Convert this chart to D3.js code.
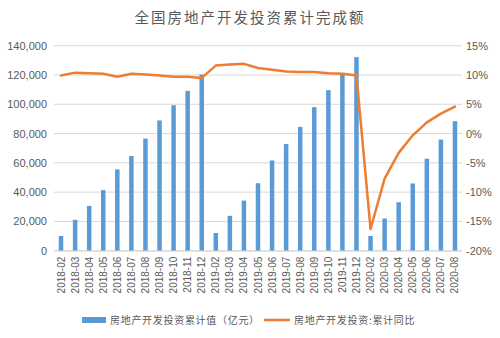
<!DOCTYPE html>
<html><head><meta charset="utf-8">
<script src="https://cdn.jsdelivr.net/npm/d3@7"></script>
<style>
html,body{margin:0;padding:0;background:#fff;}
text{font-family:"Liberation Sans",Arial,sans-serif;}
</style></head>
<body><svg id="c" width="500" height="338"></svg>
<script>
const categories = ["2018-02","2018-03","2018-04","2018-05","2018-06","2018-07","2018-08","2018-09","2018-10","2018-11","2018-12",
"2019-02","2019-03","2019-04","2019-05","2019-06","2019-07","2019-08","2019-09","2019-10","2019-11","2019-12",
"2020-02","2020-03","2020-04","2020-05","2020-06","2020-07","2020-08"];
const investValues = [10080,21108,30592,41358,55531,64691,76519,88948,99325,109160,120264,
12090,23803,34217,46075,61609,72843,84589,98008,109603,121265,132194,
10115,21963,33103,45920,62780,75894,88454];
const yoyValues = [9.9,10.4,10.3,10.2,9.7,10.2,10.1,9.9,9.7,9.7,9.5,
11.6,11.8,11.9,11.2,10.9,10.6,10.5,10.5,10.3,10.2,9.9,
-16.3,-7.7,-3.3,-0.3,1.9,3.4,4.6];
const leftTicks = [0,20000,40000,60000,80000,100000,120000,140000];
const rightTicks = [-20,-15,-10,-5,0,5,10,15];
const titleText = "全国房地产开发投资累计完成额";
const legendLabels = ["房地产开发投资累计值（亿元）","房地产开发投资:累计同比"];

const svg = d3.select("#c");
const L = 54, R = 462, T = 45.7, B = 250.7;
const x = d3.scaleBand().domain(categories).range([L, R]).paddingInner(0.68).paddingOuter(0.34);
const yL = d3.scaleLinear().domain([0,140000]).range([B, T]);
const yR = d3.scaleLinear().domain([-20,15]).range([B, T]);
const grey = "#595959";

// gridlines
svg.append("g").selectAll("line").data(leftTicks).join("line")
  .attr("x1", L).attr("x2", R)
  .attr("y1", d => yL(d)).attr("y2", d => yL(d))
  .attr("stroke", "#d9d9d9").attr("stroke-width", 1);

// left axis
const fmt = d3.format(",");
const la = svg.append("g").attr("transform", `translate(${L},0)`)
  .call(d3.axisLeft(yL).tickValues(leftTicks).tickFormat(fmt).tickSize(0).tickPadding(7));
la.select(".domain").remove();
la.selectAll("text").attr("fill", grey).style("font-size", "11px").style("font-family", "'Liberation Sans',Arial,sans-serif");

// right axis
const ra = svg.append("g").attr("transform", `translate(${R},0)`)
  .call(d3.axisRight(yR).tickValues(rightTicks).tickFormat(d => d + "%").tickSize(0).tickPadding(4));
ra.select(".domain").remove();
ra.selectAll("text").attr("fill", grey).style("font-size", "11px").style("font-family", "'Liberation Sans',Arial,sans-serif");

// bars
svg.append("g").selectAll("rect").data(investValues).join("rect")
  .attr("x", (d,i) => x(categories[i]))
  .attr("width", x.bandwidth())
  .attr("y", d => yL(d))
  .attr("height", d => B - yL(d))
  .attr("fill", "#5b9bd5");

// bottom axis line
svg.append("line").attr("x1", L).attr("x2", R).attr("y1", B + 0.5).attr("y2", B + 0.5)
  .attr("stroke", "#d9d9d9").attr("stroke-width", 1);

// x labels
const xa = svg.append("g").attr("transform", `translate(0,${B})`)
  .call(d3.axisBottom(x).tickSize(0).tickPadding(0));
xa.select(".domain").remove();
xa.selectAll("text")
  .attr("transform", "rotate(-90)")
  .attr("text-anchor", "end")
  .attr("x", -6).attr("y", 0).attr("dy", "0.35em")
  .attr("fill", grey).style("font-size", "10px").style("font-family", "'Liberation Sans',Arial,sans-serif");

// line
const line = d3.line().x((d,i) => x(categories[i]) + x.bandwidth()/2).y(d => yR(d));
svg.append("path").datum(yoyValues).attr("d", line)
  .attr("fill", "none").attr("stroke", "#ed7d31").attr("stroke-width", 2.5)
  .attr("stroke-linejoin", "round").attr("stroke-linecap", "round");

// title
svg.append("text").attr("x", 250).attr("y", 23).attr("text-anchor", "middle")
  .attr("fill", grey).style("font-size", "14.5px").style("letter-spacing", "2px")
  .style("font-family", "'Noto Sans CJK SC',sans-serif").text(titleText);

// legend
const lg = svg.append("g");
lg.append("rect").attr("x", 82).attr("y", 317).attr("width", 24).attr("height", 6).attr("fill", "#5b9bd5");
lg.append("text").attr("x", 110).attr("y", 320).attr("dy", "0.35em").attr("fill", grey)
  .style("font-size", "10px").style("letter-spacing", "0.7px")
  .style("font-family", "'Noto Sans CJK SC',sans-serif").text(legendLabels[0]);
lg.append("line").attr("x1", 264).attr("x2", 290).attr("y1", 320).attr("y2", 320)
  .attr("stroke", "#ed7d31").attr("stroke-width", 2.5);
lg.append("text").attr("x", 294).attr("y", 320).attr("dy", "0.35em").attr("fill", grey)
  .style("font-size", "10px").style("letter-spacing", "0.7px")
  .style("font-family", "'Noto Sans CJK SC',sans-serif").text(legendLabels[1]);
</script></body></html>
